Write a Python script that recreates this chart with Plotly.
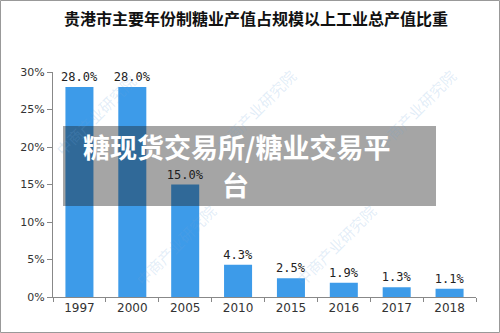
import plotly.graph_objects as go

years = ["1997", "2000", "2005", "2010", "2015", "2016", "2017", "2018"]
shares = [28.0, 28.0, 15.0, 4.3, 2.5, 1.9, 1.3, 1.1]
labels = ["28.0%", "28.0%", "15.0%", "4.3%", "2.5%", "1.9%", "1.3%", "1.1%"]
y_ticks = [0, 5, 10, 15, 20, 25, 30]
y_tick_text = ["0%", "5%", "10%", "15%", "20%", "25%", "30%"]

title = "贵港市主要年份制糖业产值占规模以上工业总产值比重"
overlay_line1 = "糖现货交易所/糖业交易平"
overlay_line2 = "台"

W, H = 500, 333
L, R, T, B = 53, 24, 72, 36
PW, PH = W - L - R, H - T - B

def px(x):
    return (x - L) / PW

def py(y):
    return (H - B - y) / PH

fig = go.Figure()
fig.add_trace(go.Bar(
    x=years, y=shares, text=labels, textposition="outside", constraintext="none",
    marker=dict(color="#3d9be9", line=dict(width=0)),
    textfont=dict(family="DejaVu Sans Mono", size=12, color="#222"),
    cliponaxis=False, width=0.53,
))

fig.update_layout(
    width=W, height=H,
    margin=dict(l=L, r=R, t=T, b=B),
    paper_bgcolor="white", plot_bgcolor="white",
    showlegend=False,
    font=dict(family="Noto Sans CJK SC", color="#333"),
    xaxis=dict(
        type="category", showline=True, linecolor="#888", linewidth=1,
        ticks="outside", tickson="boundaries", ticklen=4, tickcolor="#888",
        tickfont=dict(size=12, color="#333", family="DejaVu Sans"), showgrid=False,
    ),
    yaxis=dict(
        range=[0, 30], tickvals=y_ticks, ticktext=y_tick_text,
        showline=True, linecolor="#888", linewidth=1,
        ticks="outside", ticklen=5, tickcolor="#888",
        tickfont=dict(size=11, color="#333", family="DejaVu Sans"),
        showgrid=False, zeroline=False,
    ),
)

def note(x, y, text, font, **kw):
    fig.add_annotation(x=px(x), y=py(y), xref="paper", yref="paper", text=text,
                       showarrow=False, xanchor="center", yanchor="middle",
                       font=font, **kw)

# watermarks
for (wx, wy) in [(95, 115), (255, 110), (415, 110), (175, 245), (335, 245)]:
    note(wx, wy, "中商产业研究院",
         dict(size=15, color="rgba(110,165,220,0.2)", family="Noto Sans CJK SC"),
         textangle=-45)

note(256, 18, title, dict(size=16, color="#111", family="Noto Sans CJK SC", weight="bold"))

# frame
fig.add_shape(type="rect", xref="paper", yref="paper",
              x0=px(0.5), x1=px(W - 0.5), y0=py(H - 0.5), y1=py(0.5),
              line=dict(color="#999", width=1), fillcolor="rgba(0,0,0,0)", layer="above")

# overlay band
fig.add_shape(type="rect", xref="paper", yref="paper",
              x0=px(63), x1=px(436), y0=py(206), y1=py(126),
              line=dict(width=0), fillcolor="rgba(30,30,30,0.4)", layer="above")
ofont = dict(size=27, color="white", family="Noto Sans CJK SC", weight="bold")
note(236, 146, overlay_line1, ofont, borderpad=0)
note(235, 184, overlay_line2, ofont, borderpad=0)

fig.write_html("out.html")
